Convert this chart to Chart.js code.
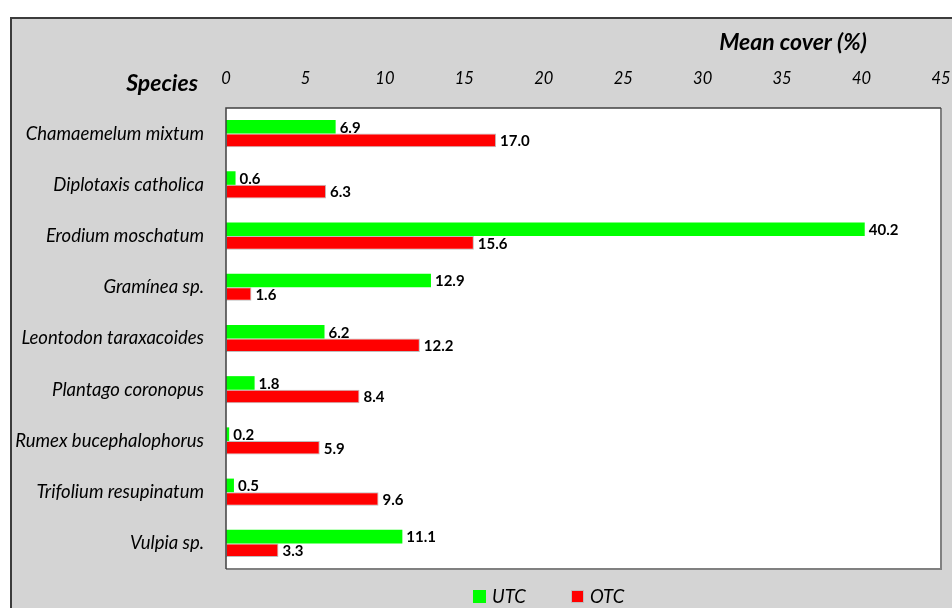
<!DOCTYPE html>
<html>
<head>
<meta charset="utf-8">
<title>Mean cover by species</title>
<script src="https://cdn.jsdelivr.net/npm/chart.js@4.4.0/dist/chart.umd.min.js"></script>
<style>
  html, body { margin: 0; padding: 0; background: #fff; overflow: hidden; }
  #frame {
    position: absolute; left: 10px; top: 17px; width: 940px; height: 589px;
    border-top: 2px solid #3c3c3c; border-left: 2px solid #3c3c3c;
    background: #d4d4d4;
  }
  canvas { display: block; }
</style>
</head>
<body>
<div id="frame"><canvas id="chart" width="940" height="589"></canvas></div>
<script>
const species = [
    'Chamaemelum mixtum',
    'Diplotaxis catholica',
    'Erodium moschatum',
    'Gramínea sp.',
    'Leontodon taraxacoides',
    'Plantago coronopus',
    'Rumex bucephalophorus',
    'Trifolium resupinatum',
    'Vulpia sp.'
];
const utc = [6.9, 0.6, 40.2, 12.9, 6.2, 1.8, 0.2, 0.5, 11.1];
const otc = [17.0, 6.3, 15.6, 1.6, 12.2, 8.4, 5.9, 9.6, 3.3];
const xTicks = [0, 5, 10, 15, 20, 25, 30, 35, 40, 45];

const FONT = 'Lato';
const legendX = [461, 559];

// white plot area, frame lines, value labels, axis titles and legend
const decorations = {
    id: 'decorations',
    beforeDraw(chart) {
        const { ctx, chartArea: a } = chart;
        ctx.save();
        ctx.fillStyle = '#ffffff';
        ctx.fillRect(a.left, a.top, a.right - a.left, a.bottom - a.top);
        ctx.restore();
    },
    afterDatasetsDraw(chart) {
        const { ctx, chartArea: a } = chart;
        ctx.save();
        ctx.strokeStyle = '#808080';
        ctx.lineWidth = 2;
        ctx.beginPath();
        ctx.moveTo(a.right, a.top);
        ctx.lineTo(a.right, a.bottom);
        ctx.lineTo(a.left, a.bottom);
        ctx.stroke();
        ctx.strokeStyle = '#404040';
        ctx.lineWidth = 1.5;
        ctx.beginPath();
        ctx.moveTo(a.left, a.bottom);
        ctx.lineTo(a.left, a.top);
        ctx.lineTo(a.right, a.top);
        ctx.stroke();

        ctx.fillStyle = '#000';
        ctx.font = `bold 15px ${FONT}`;
        ctx.textAlign = 'left';
        ctx.textBaseline = 'middle';
        chart.data.datasets.forEach((ds, i) => {
            chart.getDatasetMeta(i).data.forEach((bar, j) => {
                ctx.fillText(ds.data[j].toFixed(1), bar.x + 4, bar.y + 1);
            });
        });
        ctx.restore();
    },
    afterDraw(chart) {
        const { ctx } = chart;
        ctx.save();
        ctx.fillStyle = '#000';
        ctx.textBaseline = 'alphabetic';
        ctx.font = `italic bold 23px ${FONT}`;
        ctx.textAlign = 'center';
        ctx.fillText('Mean cover (%)', 781, 31);
        ctx.textAlign = 'right';
        ctx.fillText('Species', 186, 72);

        ctx.font = `italic 18.5px ${FONT}`;
        ctx.textAlign = 'left';
        chart.data.datasets.forEach((ds, i) => {
            const x = legendX[i];
            ctx.fillStyle = ds.backgroundColor;
            ctx.fillRect(x, 571, 13, 13);
            if (ds.borderWidth) {
                ctx.strokeStyle = ds.borderColor;
                ctx.lineWidth = 1;
                ctx.strokeRect(x + 0.5, 571.5, 12, 12);
            }
            ctx.fillStyle = '#000';
            ctx.fillText(ds.label, x + 19, 584);
        });
        ctx.restore();
    }
};

new Chart(document.getElementById('chart'), {
    type: 'bar',
    data: {
        labels: species,
        datasets: [
            {
                label: 'UTC',
                data: utc,
                backgroundColor: '#00ff00',
                borderWidth: 0
            },
            {
                label: 'OTC',
                data: otc,
                backgroundColor: '#ff0000',
                borderColor: '#bdbdbd',
                borderWidth: 1,
                borderSkipped: false
            }
        ]
    },
    options: {
        indexAxis: 'y',
        responsive: false,
        animation: false,
        devicePixelRatio: 1,
        layout: { padding: { top: 0, right: 11, bottom: 39, left: 0 } },
        datasets: {
            bar: { barPercentage: 1.0, categoryPercentage: 0.53 }
        },
        scales: {
            x: {
                position: 'top',
                min: 0,
                max: 45,
                afterBuildTicks: scale => { scale.ticks = xTicks.map(v => ({ value: v })); },
                afterFit: scale => {
                    scale.height = 89;
                    scale.paddingLeft = 0;
                    scale.paddingRight = 0;
                },
                grid: { display: false, drawTicks: false },
                border: { display: false },
                ticks: {
                    padding: 19,
                    color: '#000',
                    font: { family: FONT, size: 16.5, style: 'italic' }
                }
            },
            y: {
                afterFit: scale => { scale.width = 214; },
                grid: { display: false, drawTicks: false },
                border: { display: false },
                ticks: {
                    padding: 22,
                    color: '#000',
                    font: { family: FONT, size: 18.5, style: 'italic' }
                }
            }
        },
        plugins: {
            legend: { display: false },
            tooltip: { enabled: false }
        }
    },
    plugins: [decorations]
});
</script>
</body>
</html>
